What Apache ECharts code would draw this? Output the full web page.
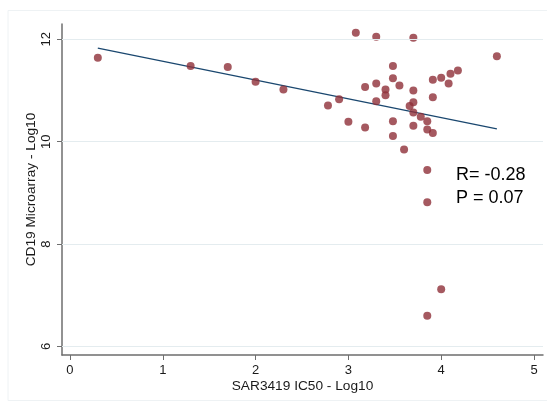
<!DOCTYPE html>
<html>
<head>
<meta charset="utf-8">
<script src="https://cdn.jsdelivr.net/npm/echarts@6/dist/echarts.min.js"></script>
<style>
  html, body { margin: 0; padding: 0; background: #fff; }
  #chart { width: 547px; height: 403px; }
</style>
</head>
<body>
<div id="chart"></div>
<script>
// SAR3419 IC50 (log10) vs CD19 microarray expression (log10), one point per sample
const ic50Log = [
  3.08, 3.30, 3.70, 4.60, 3.48, 4.18, 4.10, 4.00, 3.91, 3.48,
  4.08, 3.30, 3.55, 3.18, 3.40, 3.70, 3.40, 3.91, 2.90, 3.30,
  3.70, 2.78, 3.66, 3.70, 3.78, 3.85, 3.48, 3.00, 3.70, 3.18,
  3.85, 3.91, 3.48, 3.60, 0.30, 1.30, 1.70, 2.00, 2.30, 3.85,
  3.85, 4.00, 3.85
];
const cd19Log = [
  12.13, 12.05, 12.03, 11.67, 11.48, 11.39, 11.33, 11.25, 11.21, 11.24,
  11.14, 11.14, 11.10, 11.07, 11.02, 11.00, 10.91, 10.87, 10.83, 10.79,
  10.77, 10.71, 10.70, 10.57, 10.49, 10.40, 10.40, 10.39, 10.31, 10.28,
  10.24, 10.17, 10.11, 9.85, 11.64, 11.48, 11.46, 11.17, 11.02, 9.45,
  8.82, 7.12, 6.60
];

// Linear fit endpoints
const fitX = [0.30, 4.60];
const fitY = [11.83, 10.25];

// Axis ticks
const xTicks = [0, 1, 2, 3, 4, 5];
const yTicks = [6, 8, 10, 12];

// Annotation
const statLines = ['R= -0.28', 'P = 0.07'];

const FONT = '"Liberation Sans", Arial, Helvetica, sans-serif';
const AXIS_COLOR = '#6e6e6e';
const TEXT_COLOR = '#1a1a1a';

const chart = echarts.init(document.getElementById('chart'), null, { renderer: 'canvas' });

const points = ic50Log.map((x, i) => [x, cd19Log[i]]);
const fitLine = fitX.map((x, i) => [x, fitY[i]]);

chart.setOption({
  animation: false,
  backgroundColor: '#ffffff',
  textStyle: { fontFamily: FONT },
  grid: { left: 62, right: 4, top: 24, bottom: 48, containLabel: false },
  xAxis: {
    type: 'value',
    min: -0.086,
    max: 5.097,
    name: 'SAR3419 IC50 - Log10',
    nameLocation: 'middle',
    nameGap: 24,
    nameMoveOverlap: false,
    nameTextStyle: { fontSize: 13.7, color: TEXT_COLOR, fontFamily: FONT },
    axisLine: { show: true, onZero: false, lineStyle: { color: AXIS_COLOR, width: 1.5 } },
    axisTick: { show: true, length: 5, customValues: xTicks, lineStyle: { color: AXIS_COLOR, width: 1 } },
    axisLabel: {
      customValues: xTicks,
      fontSize: 13,
      color: TEXT_COLOR,
      margin: 9,
      fontFamily: FONT
    },
    splitLine: { show: false }
  },
  yAxis: {
    type: 'value',
    min: 5.834,
    max: 12.30,
    name: 'CD19 Microarray - Log10',
    nameLocation: 'middle',
    nameGap: 24,
    nameMoveOverlap: false,
    nameTextStyle: { fontSize: 13.7, color: TEXT_COLOR, fontFamily: FONT },
    axisLine: { show: true, onZero: false, lineStyle: { color: AXIS_COLOR, width: 1.5 } },
    axisTick: { show: true, length: 5, customValues: yTicks, lineStyle: { color: AXIS_COLOR, width: 1 } },
    axisLabel: {
      customValues: yTicks,
      rotate: 90,
      fontSize: 13,
      color: TEXT_COLOR,
      margin: 9,
      fontFamily: FONT
    },
    splitLine: { show: false }
  },
  graphic: [
    {
      type: 'rect',
      silent: true,
      z: -10,
      shape: { x: 8, y: 10.5, width: 560, height: 390 },
      style: { fill: 'none', stroke: '#eef2f4', lineWidth: 1 }
    },
    {
      type: 'text',
      left: 456,
      top: 166,
      style: { text: statLines[0], font: '18px ' + FONT, fill: '#000' }
    },
    {
      type: 'text',
      left: 456,
      top: 189,
      style: { text: statLines[1], font: '18px ' + FONT, fill: '#000' }
    }
  ],
  series: [
    {
      // horizontal reference lines at each y tick
      type: 'line',
      data: [],
      silent: true,
      z: 0,
      markLine: {
        silent: true,
        symbol: 'none',
        label: { show: false },
        lineStyle: { color: '#e4ecef', width: 1, type: 'solid' },
        data: yTicks.map(v => ({ yAxis: v }))
      }
    },
    {
      type: 'scatter',
      data: points,
      symbol: 'circle',
      symbolSize: 8,
      itemStyle: { color: '#8f3038' },
      z: 3
    },
    {
      type: 'line',
      data: fitLine,
      symbol: 'none',
      lineStyle: { color: '#1a476f', width: 1.3 },
      z: 2
    }
  ]
});
</script>
</body>
</html>
